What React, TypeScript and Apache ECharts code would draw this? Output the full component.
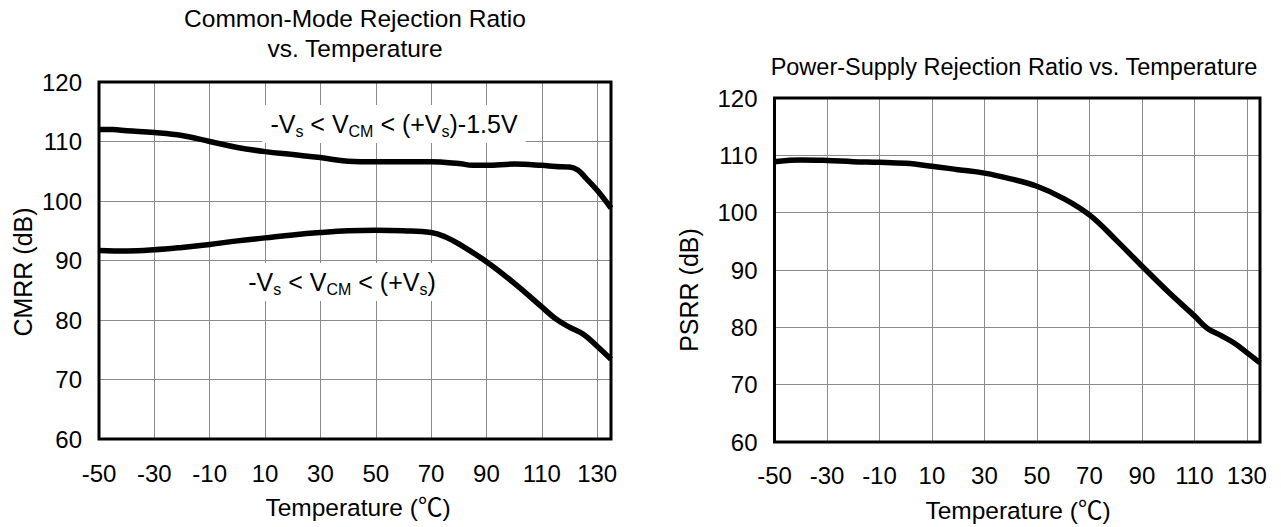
import React, { useEffect, useRef } from "react";
import * as echarts from "echarts";

// ---- data ----
const cmrrHighTemps = [-50, -45, -40, -30, -20, -10, 0, 10, 20, 30, 40, 50, 60, 70, 80, 85, 90, 100, 110, 115, 120, 123, 126, 130, 135];
const cmrrHighValues = [112, 112, 111.8, 111.5, 111, 110, 109, 108.3, 107.8, 107.3, 106.7, 106.6, 106.6, 106.6, 106.3, 106, 106, 106.2, 106, 105.8, 105.7, 105.2, 103.8, 101.8, 98.8];

const cmrrLowTemps = [-50, -40, -30, -20, -10, 0, 10, 20, 30, 40, 50, 60, 70, 75, 80, 90, 100, 110, 115, 120, 125, 130, 135];
const cmrrLowValues = [91.7, 91.6, 91.8, 92.2, 92.7, 93.3, 93.8, 94.3, 94.7, 95, 95.1, 95, 94.7, 94, 92.8, 89.8, 86.2, 82.2, 80.2, 78.8, 77.6, 75.6, 73.4];

const psrrTemps = [-50, -45, -40, -30, -20, -10, 0, 10, 20, 30, 40, 50, 60, 70, 80, 90, 100, 110, 115, 120, 125, 130, 135];
const psrrValues = [108.9, 109.1, 109.2, 109.1, 108.9, 108.8, 108.6, 108.1, 107.5, 106.9, 105.9, 104.6, 102.5, 99.6, 95.3, 90.7, 86.2, 82, 79.8, 78.6, 77.3, 75.6, 73.8];

const xMin = -50;
const xMax = 135;
const xStep = 20;
const yMin = 60;
const yMax = 120;
const yStep = 10;

const leftTitle = "Common-Mode Rejection Ratio\nvs. Temperature";
const rightTitle = "Power-Supply Rejection Ratio vs. Temperature";
const xName = "Temperature (℃)";
const leftYName = "CMRR (dB)";
const rightYName = "PSRR (dB)";
const annotHigh = "{a|-V}{s|s}{a| < V}{s|CM}{a| < (+V}{s|s}{a|)-1.5V}";
const annotLow = "{a|-V}{s|s}{a| < V}{s|CM}{a| < (+V}{s|s}{a|)}";

const FONT = "'Liberation Sans', Arial, 'Noto Sans CJK SC', sans-serif";
const TICK_SIZE = 24;
const TEXT_SIZE = 24.5;

function zip(xs: number[], ys: number[]) {
  return xs.map((x, i) => [x, ys[i]]);
}

function xAxisCfg(gridIndex: number, margin: number) {
  return {
    type: "value",
    gridIndex,
    min: xMin,
    max: xMax,
    interval: xStep,
    axisLine: { show: false },
    axisTick: { show: false },
    axisLabel: {
      color: "#000",
      fontSize: TICK_SIZE,
      fontFamily: FONT,
      margin,
      showMaxLabel: false,
      formatter: (v: number) => ((v - xMin) % xStep === 0 ? String(v) : ""),
    },
    splitLine: { show: true, showMinLine: false, showMaxLine: false, lineStyle: { color: "#8a8a8a", width: 1 } },
  };
}

function yAxisCfg(gridIndex: number) {
  return {
    type: "value",
    gridIndex,
    min: yMin,
    max: yMax,
    interval: yStep,
    axisLine: { show: false },
    axisTick: { show: false },
    axisLabel: { color: "#000", fontSize: TICK_SIZE, fontFamily: FONT, margin: 17 },
    splitLine: { show: true, showMinLine: false, showMaxLine: false, lineStyle: { color: "#8a8a8a", width: 1 } },
  };
}

function textEl(text: string, x: number, y: number, size: number, extra: any = {}) {
  return {
    type: "text",
    x,
    y,
    rotation: extra.rotation || 0,
    z: 20,
    style: {
      text,
      fill: "#000",
      fontSize: size,
      fontFamily: FONT,
      align: "center",
      textAlign: "center",
      verticalAlign: extra.va || "middle",
      textVerticalAlign: extra.va || "middle",
      lineHeight: extra.lineHeight,
    },
  };
}

function annotEl(text: string, x: number, y: number) {
  return {
    type: "text",
    x,
    y,
    z: 15,
    style: {
      text,
      fill: "#000",
      fontFamily: FONT,
      align: "center",
      textAlign: "center",
      verticalAlign: "middle",
      textVerticalAlign: "middle",
      backgroundColor: "#fff",
      padding: [4, 8],
      rich: {
        a: { fontSize: 25, fontFamily: FONT, lineHeight: 30, fill: "#000" },
        s: { fontSize: 16, fontFamily: FONT, lineHeight: 15, verticalAlign: "bottom", fill: "#000" },
      },
    },
  };
}

export default function App() {
  const ref = useRef<HTMLDivElement>(null);
  useEffect(() => {
    if (!ref.current) return;
    const chart = echarts.init(ref.current, undefined, { renderer: "svg" });
    const lineStyle = { color: "#000", width: 5.5 };
    chart.setOption({
      animation: false,
      backgroundColor: "#fff",
      grid: [
        { left: 99, top: 82, width: 512, height: 357, show: true, borderColor: "#000", borderWidth: 3, backgroundColor: "transparent", z: 10 },
        { left: 774.5, top: 98, width: 485.5, height: 344, show: true, borderColor: "#000", borderWidth: 3, backgroundColor: "transparent", z: 10 },
      ],
      xAxis: [xAxisCfg(0, 22), xAxisCfg(1, 21)],
      yAxis: [yAxisCfg(0), yAxisCfg(1)],
      series: [
        { type: "line", xAxisIndex: 0, yAxisIndex: 0, data: zip(cmrrHighTemps, cmrrHighValues), smooth: 0.4, showSymbol: false, symbol: "none", lineStyle, z: 5 },
        { type: "line", xAxisIndex: 0, yAxisIndex: 0, data: zip(cmrrLowTemps, cmrrLowValues), smooth: 0.4, showSymbol: false, symbol: "none", lineStyle, z: 5 },
        { type: "line", xAxisIndex: 1, yAxisIndex: 1, data: zip(psrrTemps, psrrValues), smooth: 0.4, showSymbol: false, symbol: "none", lineStyle, z: 5 },
      ],
      graphic: [
        textEl(leftTitle, 355, 3, TEXT_SIZE, { va: "top", lineHeight: 30 }),
        textEl(rightTitle, 1014, 67, 23.5),
        textEl(xName, 358, 507, TEXT_SIZE),
        textEl(xName, 1018, 510, TEXT_SIZE),
        textEl(leftYName, 23, 272, 25, { rotation: Math.PI / 2 }),
        textEl(rightYName, 689, 290, 25, { rotation: Math.PI / 2 }),
        annotEl(annotHigh, 394, 124),
        annotEl(annotLow, 342, 282),
      ],
    });
    return () => chart.dispose();
  }, []);
  return (
    <div
      ref={ref}
      style={{ position: "absolute", left: 0, top: 0, width: 1281, height: 527, background: "#fff" }}
    />
  );
}
